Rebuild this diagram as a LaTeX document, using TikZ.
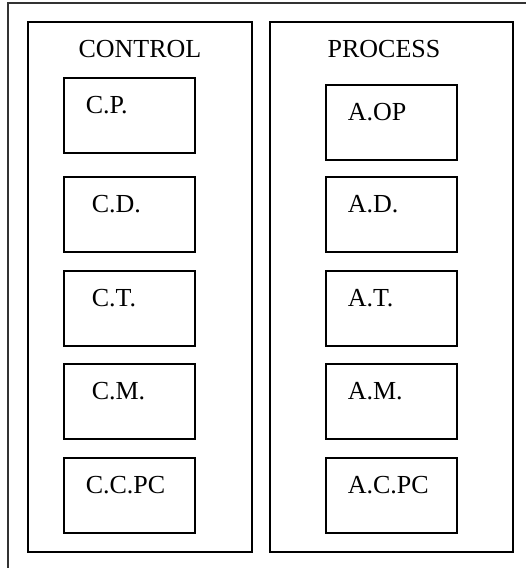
\documentclass[tikz,border=0pt]{standalone}
\usepackage{fontspec}
\setmainfont{Liberation Serif}
\usetikzlibrary{positioning}
\begin{document}
\begin{tikzpicture}[x=1pt,y=-1pt,line width=1.5pt,
  panel/.style={draw,rectangle,minimum height=530pt,inner sep=0pt,outer sep=0pt},
  unit/.style={draw,rectangle,minimum width=131pt,minimum height=75pt,inner sep=0pt,outer sep=0pt},
  title/.style={anchor=base,inner sep=0pt,font=\fontsize{26}{30}\selectfont},
  tag/.style={anchor=base west,inner sep=0pt,font=\fontsize{26}{30}\selectfont}]
\useasboundingbox (0,0) rectangle (526,568);
\clip (0,0) rectangle (526,568);
\draw[black!80,line width=1.2pt] (8,3) rectangle (600,640);
\node[panel,minimum width=224pt] (control) at (140,287) {};
\node[panel,minimum width=243pt] (process) at (391.5,287) {};
\node[title] (ctitle) at (140,57) {CONTROL};
\node[title] (ptitle) at (384,57) {PROCESS};
% control units
\node[unit] (cp) at (129.5,115.5) {};
\node[unit] (cd) at (129.5,214.5) {};
\node[unit] (ct) at (129.5,308.5) {};
\node[unit] (cm) at (129.5,401.5) {};
\node[unit] (ccpc) at (129.5,495.5) {};
\node[tag] at ([xshift=21pt,yshift=-35pt]cp.north west) {C.P.};
\node[tag] at ([xshift=27pt,yshift=-35pt]cd.north west) {C.D.};
\node[tag] at ([xshift=27pt,yshift=-35pt]ct.north west) {C.T.};
\node[tag] at ([xshift=27pt,yshift=-35pt]cm.north west) {C.M.};
\node[tag] at ([xshift=21pt,yshift=-35pt]ccpc.north west) {C.C.PC};
% process units
\node[unit] (aop) at (391.5,122.5) {};
\node[unit] (ad) at (391.5,214.5) {};
\node[unit] (at) at (391.5,308.5) {};
\node[unit] (am) at (391.5,401.5) {};
\node[unit] (acpc) at (391.5,495.5) {};
\node[tag] at ([xshift=21pt,yshift=-35pt]aop.north west) {A.OP};
\node[tag] at ([xshift=21pt,yshift=-35pt]ad.north west) {A.D.};
\node[tag] at ([xshift=21pt,yshift=-35pt]at.north west) {A.T.};
\node[tag] at ([xshift=21pt,yshift=-35pt]am.north west) {A.M.};
\node[tag] at ([xshift=21pt,yshift=-35pt]acpc.north west) {A.C.PC};
\end{tikzpicture}
\end{document}
